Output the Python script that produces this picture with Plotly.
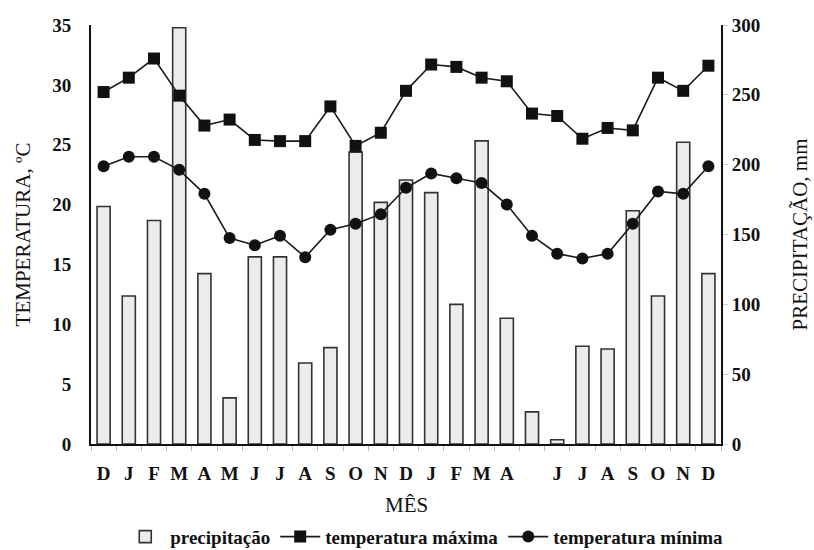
import plotly.graph_objects as go

months = ["D", "J", "F", "M", "A", "M", "J", "J", "A", "S", "O", "N", "D",
          "J", "F", "M", "A", "M", "J", "J", "A", "S", "O", "N", "D"]
tick_labels = ["D", "J", "F", "M", "A", "M", "J", "J", "A", "S", "O", "N", "D",
               "J", "F", "M", "A", "", "J", "J", "A", "S", "O", "N", "D"]
precipitacao = [170, 106, 160, 298, 122, 33, 134, 134, 58, 69, 209, 173, 189,
                180, 100, 217, 90, 23, 3, 70, 68, 167, 106, 216, 122]
temp_max = [29.4, 30.6, 32.2, 29.1, 26.6, 27.1, 25.4, 25.3, 25.3, 28.2, 24.9, 26.0, 29.5,
            31.7, 31.5, 30.6, 30.3, 27.6, 27.4, 25.5, 26.4, 26.2, 30.6, 29.5, 31.6]
temp_min = [23.2, 24.0, 24.0, 22.9, 20.9, 17.2, 16.6, 17.4, 15.6, 17.9, 18.4, 19.2, 21.4,
            22.6, 22.2, 21.8, 20.0, 17.4, 15.9, 15.5, 15.9, 18.4, 21.1, 20.9, 23.2]

x = list(range(len(months)))
serif = "Liberation Serif"

fig = go.Figure()
fig.add_trace(go.Bar(
    x=x, y=precipitacao, name="precipitação", yaxis="y",
    width=0.52, marker=dict(color="#ececec", line=dict(color="#333333", width=1.6)),
))
fig.add_trace(go.Scatter(
    x=x, y=temp_max, name="temperatura máxima", yaxis="y2", mode="lines+markers",
    line=dict(color="#1a1a1a", width=1.6),
    marker=dict(symbol="square", size=12, color="#111111"),
))
fig.add_trace(go.Scatter(
    x=x, y=temp_min, name="temperatura mínima", yaxis="y2", mode="lines+markers",
    line=dict(color="#1a1a1a", width=1.6),
    marker=dict(symbol="circle", size=12, color="#111111"),
))

fig.update_layout(
    width=814, height=550,
    margin=dict(l=91, r=93, t=25, b=106, autoexpand=False),
    paper_bgcolor="white", plot_bgcolor="white",
    font=dict(family=serif, color="#111111"),
    xaxis=dict(
        range=[-0.5, len(months) - 0.5],
        tickmode="array", tickvals=x, ticktext=tick_labels,
        tickfont=dict(family=serif, size=19, color="#111111", weight="bold"),
        showline=True, linecolor="#111111", linewidth=2,
        showgrid=False, zeroline=False,
        ticks="outside", ticklen=11, tickcolor="rgba(0,0,0,0)",
        minor=dict(ticks="outside", tick0=0.5, dtick=1, ticklen=5, tickcolor="#bbbbbb", showgrid=False),
        automargin=False,
    ),
    yaxis=dict(
        side="right", range=[0, 300], tickvals=[0, 50, 100, 150, 200, 250, 300],
        tickfont=dict(family=serif, size=19, color="#111111", weight="bold"),
        showline=True, linecolor="#111111", linewidth=2,
        showgrid=False, zeroline=False,
        ticks="outside", ticklen=5, tickcolor="#cccccc",
        title=dict(text="PRECIPITAÇÃO, mm", font=dict(family=serif, size=21), standoff=33),
        automargin=False,
    ),
    yaxis2=dict(
        side="left", overlaying="y", range=[0, 35], tickvals=[0, 5, 10, 15, 20, 25, 30, 35],
        tickfont=dict(family=serif, size=19, color="#111111", weight="bold"),
        showline=True, linecolor="#111111", linewidth=2,
        showgrid=False, zeroline=False,
        ticks="outside", ticklen=14, tickcolor="rgba(0,0,0,0)",
        title=dict(text="TEMPERATURA, ºC", font=dict(family=serif, size=21), standoff=16),
        automargin=False,
    ),
    annotations=[dict(
        text="MÊS", xref="paper", yref="paper", x=0.5, y=-0.1456,
        xanchor="center", yanchor="middle", showarrow=False,
        font=dict(family=serif, size=21, color="#111111"),
    )],
    legend=dict(
        orientation="h", x=0.529, xanchor="center", y=-0.176, yanchor="top",
        font=dict(family=serif, size=19, color="#111111", weight="bold"),
        bgcolor="rgba(0,0,0,0)", itemwidth=40, traceorder="normal",
    ),
    showlegend=True,
)

fig.write_html("out.html", config={"displayModeBar": False},
               post_script="document.body.style.margin='0px';")
